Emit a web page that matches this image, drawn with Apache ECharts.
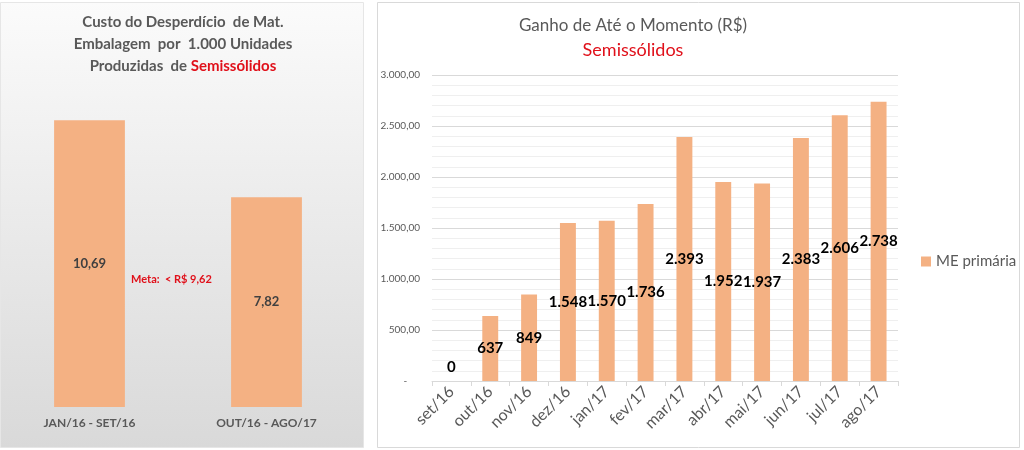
<!DOCTYPE html>
<html>
<head>
<meta charset="utf-8">
<script src="https://cdn.jsdelivr.net/npm/echarts@6/dist/echarts.min.js"></script>
<style>
html,body{margin:0;padding:0;background:#fff;}
#c{width:1024px;height:450px;}
</style>
</head>
<body>
<div id="c"></div>
<script>
// Left chart data
const leftCategories = ['JAN/16 - SET/16', 'OUT/16 - AGO/17'];
const leftValues = [10.69, 7.82];
const metaText = 'Meta:  < R$ 9,62';

// Right chart data
const rightCategories = ['set/16','out/16','nov/16','dez/16','jan/17','fev/17','mar/17','abr/17','mai/17','jun/17','jul/17','ago/17'];
const rightValues = [0, 637, 849, 1548, 1570, 1736, 2393, 1952, 1937, 2383, 2606, 2738];
const rightSeriesName = 'ME primária';
const yTicks = [0, 500, 1000, 1500, 2000, 2500, 3000];

const FONT = 'Lato, "Open Sans", sans-serif';
const GRAY = '#595959';
const ORANGE = '#F4B183';

function thousands(n) {
  return String(Math.round(n)).replace(/\B(?=(\d{3})+(?!\d))/g, '.');
}

const chart = echarts.init(document.getElementById('c'), null, {renderer: 'canvas'});

chart.setOption({
  animation: false,
  textStyle: {fontFamily: FONT},
  graphic: [
    {
      type: 'rect', z: -10, silent: true,
      shape: {x: 0.5, y: 2.5, width: 363, height: 445},
      style: {
        fill: new echarts.graphic.LinearGradient(0, 0, 0, 1, [
          {offset: 0, color: '#fbfbfb'},
          {offset: 1, color: '#d9d9d9'}
        ]),
        stroke: '#e6e6e6', lineWidth: 1
      }
    },
    {
      type: 'rect', z: -10, silent: true,
      shape: {x: 377.5, y: 2.5, width: 642, height: 445},
      style: {fill: '#ffffff', stroke: '#d9d9d9', lineWidth: 1}
    },
    {
      type: 'text', silent: true,
      left: 131, top: 274,
      style: {text: metaText, fill: '#e0101a', font: 'bold 11px ' + FONT}
    }
  ],
  title: [
    {
      text: '{g|Custo do Desperdício  de Mat.}\n{g|Embalagem  por  1.000 Unidades}\n{g|Produzidas  de }{r|Semissólidos}',
      left: 178, top: 6, textAlign: 'center',
      textStyle: {
        rich: {
          g: {fontFamily: FONT, fontWeight: 'bold', fontSize: 15, color: GRAY, lineHeight: 22},
          r: {fontFamily: FONT, fontWeight: 'bold', fontSize: 15, color: '#e0101a', lineHeight: 22}
        }
      }
    },
    {
      text: 'Ganho de Até o Momento (R$)',
      subtext: 'Semissólidos',
      left: 628, top: 12, textAlign: 'center', itemGap: 7,
      textStyle: {fontFamily: FONT, fontWeight: 'normal', fontSize: 17, color: GRAY},
      subtextStyle: {fontFamily: FONT, fontSize: 18, color: '#e0101a'}
    }
  ],
  legend: {
    data: [rightSeriesName],
    left: 916, top: 249,
    icon: 'rect', itemWidth: 10, itemHeight: 10, itemGap: 4,
    textStyle: {fontFamily: FONT, fontSize: 15, color: GRAY}
  },
  grid: [
    {left: 1, width: 354, top: 85, bottom: 43},
    {left: 432, width: 466, top: 75, bottom: 69}
  ],
  xAxis: [
    {
      type: 'category', gridIndex: 0, data: leftCategories,
      axisLine: {show: false}, axisTick: {show: false},
      axisLabel: {color: GRAY, fontWeight: 'bold', fontSize: 12, margin: 10, fontFamily: FONT}
    },
    {
      type: 'category', gridIndex: 1, data: rightCategories,
      axisLine: {lineStyle: {color: '#d9d9d9'}},
      axisTick: {show: true, length: 5, lineStyle: {color: '#d9d9d9'}},
      axisLabel: {color: GRAY, fontSize: 16, rotate: 45, margin: 8, interval: 0, fontFamily: FONT}
    }
  ],
  yAxis: [
    {
      type: 'value', gridIndex: 0, min: 0, max: 12, show: false,
      splitLine: {show: false}
    },
    {
      type: 'value', gridIndex: 1, min: yTicks[0], max: yTicks[yTicks.length - 1], interval: 500,
      axisLine: {show: false}, axisTick: {show: false},
      axisLabel: {
        color: GRAY, fontSize: 10, margin: 12, fontFamily: FONT,
        formatter: v => v === 0 ? '-     ' : thousands(v) + ',00'
      },
      splitLine: {lineStyle: {color: '#d9d9d9'}},
      minorTick: {show: false, splitNumber: 5},
      minorSplitLine: {show: true, lineStyle: {color: '#efefef'}}
    }
  ],
  series: [
    {
      type: 'bar', xAxisIndex: 0, yAxisIndex: 0,
      data: leftValues, barWidth: '40%',
      itemStyle: {color: ORANGE},
      label: {
        show: true, position: 'inside', color: '#404040', fontWeight: 'bold', fontSize: 13, fontFamily: FONT,
        formatter: p => p.value.toFixed(2).replace('.', ',')
      }
    },
    {
      type: 'bar', name: rightSeriesName, xAxisIndex: 1, yAxisIndex: 1,
      data: rightValues.map(v => v === 0 ? {value: v, label: {position: 'top', distance: 6}} : v),
      barWidth: '41%',
      itemStyle: {color: ORANGE},
      label: {
        show: true, position: 'inside', color: '#000', fontWeight: 'bold', fontSize: 15, fontFamily: FONT,
        formatter: p => thousands(p.value)
      }
    }
  ]
});
</script>
</body>
</html>
